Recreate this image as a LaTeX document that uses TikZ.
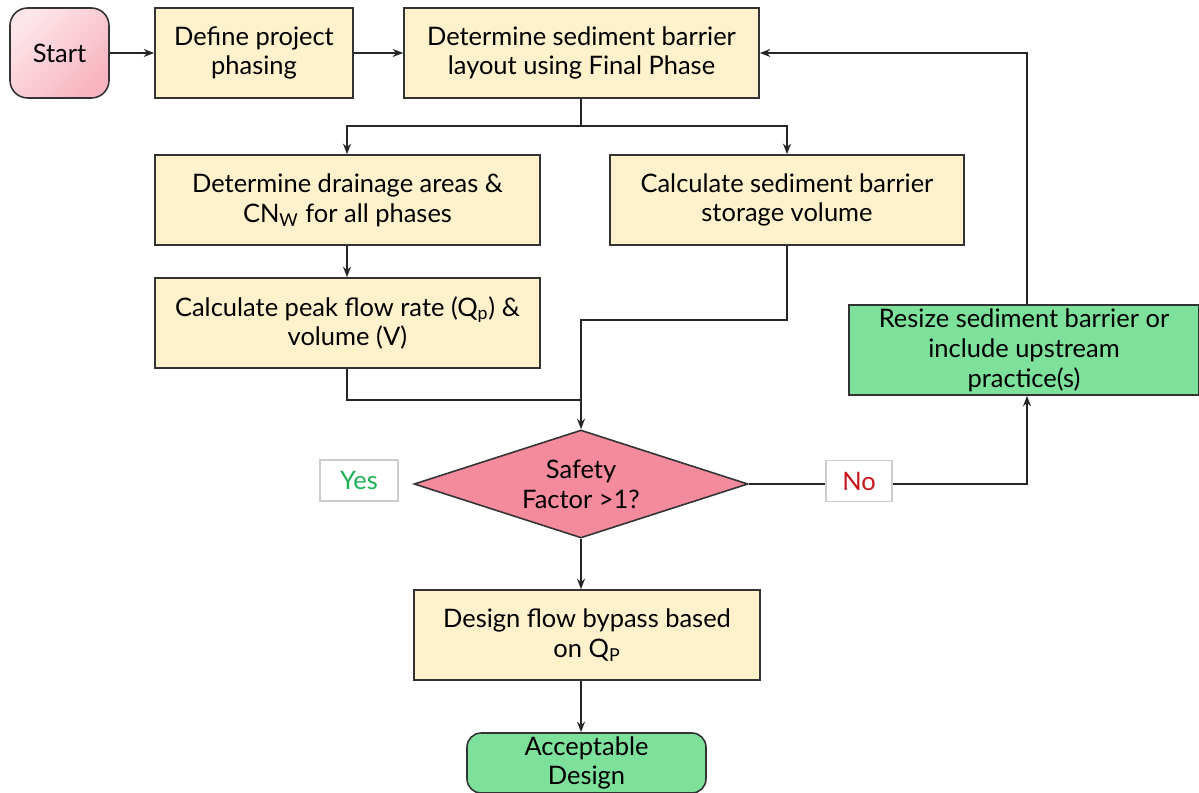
\documentclass[tikz,border=0pt]{standalone}
\usepackage{fontspec}
\setmainfont{Lato}
\usetikzlibrary{arrows.meta,shapes.geometric,calc}
\definecolor{beige}{HTML}{FEF1CB}
\definecolor{pinkd}{HTML}{F38B9C}
\definecolor{greenb}{HTML}{7DE09B}
\definecolor{startA}{HTML}{FDE6EA}
\definecolor{startB}{HTML}{F8B4C0}
\definecolor{yesg}{HTML}{1FB257}
\definecolor{nor}{HTML}{C8141B}
\begin{document}
\begin{tikzpicture}[x=0.02cm,y=-0.02cm,
  font=\fontsize{14.5}{17}\selectfont,
  box/.style={draw=black!80,line width=0.9pt,fill=beige,align=center,inner sep=0pt},
  gbox/.style={draw=black!80,line width=0.9pt,fill=greenb,align=center,inner sep=0pt},
  lbl/.style={draw=black!20,line width=0.6pt,fill=white,minimum width=1.56cm,minimum height=0.82cm,inner sep=0pt},
  conn/.style={line width=1.2pt,draw=black!85},
  arr/.style={conn,-{Stealth[length=6pt,width=4.5pt]}}]
\useasboundingbox (0,0) rectangle (1199,793);
\node[draw=black!80,line width=0.9pt,rounded corners=10pt,top color=startA,bottom color=startB,shading angle=45,
  minimum width=1.98cm,minimum height=1.8cm,inner sep=0pt] (start) at (59.5,53) {Start};
\node[box,minimum width=3.96cm,minimum height=1.8cm] (phase) at (254,53) {Define project\\phasing};
\node[box,minimum width=7.1cm,minimum height=1.8cm] (layout) at (581.5,53) {Determine sediment barrier\\layout using Final Phase};
\node[box,minimum width=7.7cm,minimum height=1.8cm] (drain) at (347.5,200) {Determine drainage areas \&\\CN\textsubscript{W} for all phases};
\node[box,minimum width=7.08cm,minimum height=1.8cm] (store) at (787,200) {Calculate sediment barrier\\storage volume};
\node[box,minimum width=7.7cm,minimum height=1.8cm] (peak) at (347.5,323) {Calculate peak flow rate (Q\textsubscript{p}) \&\\volume (V)};
\node[gbox,minimum width=7.0cm,minimum height=1.8cm] (resize) at (1024,350) {Resize sediment barrier or\\include upstream\\practice(s)};
\node[diamond,draw=black!80,line width=0.9pt,fill=pinkd,align=center,inner sep=0pt,
  minimum width=6.68cm,minimum height=2.16cm,aspect=3.09] (sf) at (581,484) {Safety\\Factor >1?};
\node[box,minimum width=6.92cm,minimum height=1.8cm] (bypass) at (587,635) {Design flow bypass based\\on Q\textsubscript{P}};
\node[gbox,rounded corners=8pt,minimum width=4.78cm,minimum height=1.2cm] (ok) at (586.5,763) {Acceptable\\Design};
\node[lbl,text=yesg] (yes) at (359,480.5) {Yes};
\coordinate (nopos) at (859,481);
\coordinate (split) at (581,126);
\coordinate (merge) at (581,400);
\draw[arr] (start) -- (phase);
\draw[arr] (phase) -- (layout);
\draw[conn] (layout.south -| split) -- (split);
\draw[arr] (split) -- (347,126) -- (drain.north -| 347,0);
\draw[arr] (split) -- (787,126) -- (store.north -| 787,0);
\draw[arr] (drain.south -| 347,0) -- (peak.north -| 347,0);
\draw[conn] (peak.south -| 347,0) -- (347,400) -- (merge);
\draw[conn] (store.south -| 787,0) -- (787,320) -- (581,320) -- (merge);
\draw[arr] (merge) -- (sf.north);
\draw[arr] (sf.east) -- (1027,484) -- (resize.south -| 1027,0);
\node[lbl,text=nor,minimum width=1.32cm] (no) at (nopos) {No};
\draw[arr] (resize.north -| 1027,0) -- (1027,53) -- (layout.east);
\draw[arr] (sf.south) -- (bypass.north -| sf.south);
\draw[arr] (bypass.south -| sf.south) -- (ok.north -| sf.south);
\end{tikzpicture}
\end{document}
